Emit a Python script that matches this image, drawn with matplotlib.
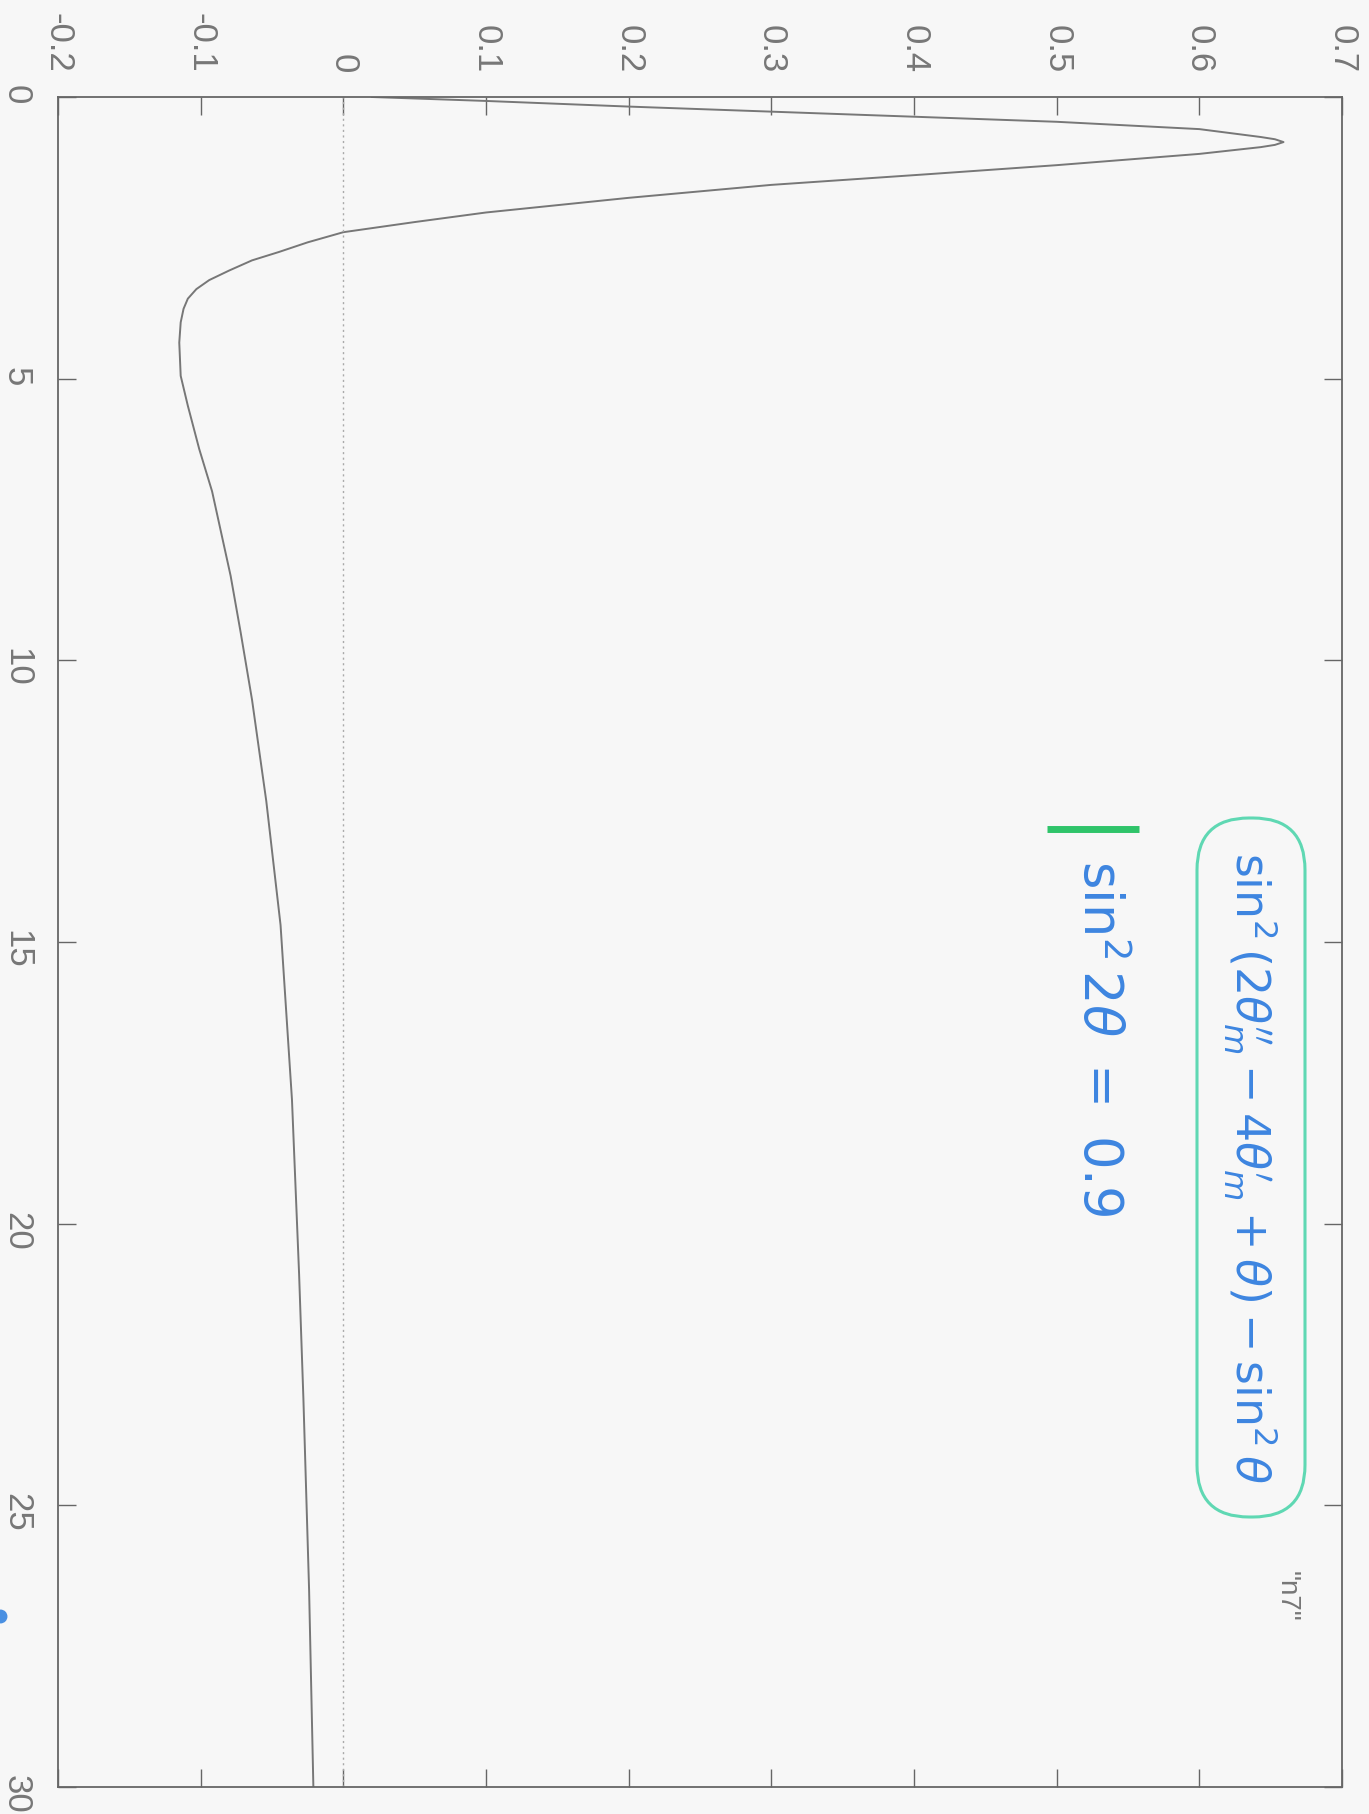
import matplotlib
matplotlib.use("Agg")
from matplotlib import pyplot as plt
from matplotlib.patches import FancyBboxPatch
from matplotlib.lines import Line2D
from matplotlib.transforms import IdentityTransform

# n7 curve: x (0..30) and value
x_vals = [0.0, 0.07, 0.17, 0.26, 0.35, 0.44, 0.57, 0.71, 0.75, 0.80,
          0.85, 0.89, 1.01, 1.21, 1.37, 1.56, 1.79, 2.05, 2.22, 2.40,
          2.58, 2.75, 2.90, 3.08, 3.25, 3.41, 3.58, 3.76, 4.00, 4.36,
          4.95, 5.48, 6.25, 7.00, 8.50, 9.50, 10.7, 11.6, 12.5, 14.7,
          17.8, 20.9, 23.1, 26.5, 30.0]
n7_vals = [0.02, 0.10, 0.20, 0.30, 0.40, 0.50, 0.60, 0.643, 0.653, 0.659,
           0.653, 0.643, 0.60, 0.50, 0.41, 0.30, 0.20, 0.10, 0.050, 0.0,
           -0.025, -0.045, -0.064, -0.080, -0.094, -0.103, -0.109, -0.112, -0.114, -0.115,
           -0.114, -0.109, -0.101, -0.092, -0.079, -0.072, -0.064, -0.059, -0.054, -0.044,
           -0.036, -0.031, -0.028, -0.024, -0.021]

value_ticks = [-0.2, -0.1, 0, 0.1, 0.2, 0.3, 0.4, 0.5, 0.6, 0.7]
value_labels = ["-0.2", "-0.1", "0", "0.1", "0.2", "0.3", "0.4", "0.5", "0.6", "0.7"]
x_ticks = [0, 5, 10, 15, 20, 25, 30]

plt.rcParams['font.family'] = ['Liberation Sans', 'DejaVu Sans']

fig = plt.figure(figsize=(13.69, 18.15), dpi=100, facecolor="#f7f7f7")
# page is printed in landscape, so the plot is turned a quarter turn clockwise
ax = fig.add_axes([58 / 1369, 1 - 1788 / 1815, 1284 / 1369, 1690 / 1815])
ax.set_facecolor("#f7f7f7")

ax.plot(n7_vals, x_vals, color="#777777", lw=1.4, solid_joinstyle='round')
ax.axvline(0, color="#aaaaaa", lw=1.0, ls=(0, (1.5, 2.5)))

ax.set_xlim(-0.2, 0.7)
ax.set_ylim(30, 0)

ax.set_xticks(value_ticks)
ax.set_xticklabels(value_labels)
ax.set_yticks(x_ticks)
ax.set_yticklabels([str(t) for t in x_ticks])

ax.tick_params(axis='x', top=True, bottom=True, labeltop=True, labelbottom=False,
               direction='in', length=13, width=1.0, color="#666666",
               labelrotation=-90, labelsize=25, labelcolor="#777777", pad=18)
ax.tick_params(axis='y', left=True, right=True, direction='in', length=13,
               width=1.0, color="#666666", labelrotation=-90, labelsize=25,
               labelcolor="#777777", pad=18)
for lab in ax.get_xticklabels():
    lab.set_va('bottom')
for spine in ax.spines.values():
    spine.set_color("#666666")
    spine.set_linewidth(1.3)

# key entry
ax.text(0.661, 26.6, '"n7"', rotation=-90, ha='center', va='center',
        fontsize=20, color="#777777")

# handwritten notes
ax.text(0.6355, 19.0,
        r"$\sin^2(2\theta_m'' - 4\theta_m' + \theta) - \sin^2\theta$",
        rotation=-90, ha='center', va='center', fontsize=33, color="#3d85e0")
ax.text(0.53, 16.7, r"$\sin^2 2\theta\ =\ 0.9$", rotation=-90,
        ha='center', va='center', fontsize=38, color="#3d85e0")
ax.plot([0.493, 0.558], [13.0, 13.0], color="#2fc46a", lw=5,
        solid_capstyle='butt')

box = FancyBboxPatch((1197, 1815 - 1518), 108, 699,
                     boxstyle="round,pad=0,rounding_size=52",
                     transform=IdentityTransform(), fill=False,
                     edgecolor="#5fd8b3", lw=2.2)
fig.add_artist(box)
fig.add_artist(Line2D([0.0], [1 - 1617 / 1815], marker='o', ms=9,
                      color="#4a90e2", transform=fig.transFigure))

fig.savefig("out.png", dpi=100, facecolor=fig.get_facecolor())
